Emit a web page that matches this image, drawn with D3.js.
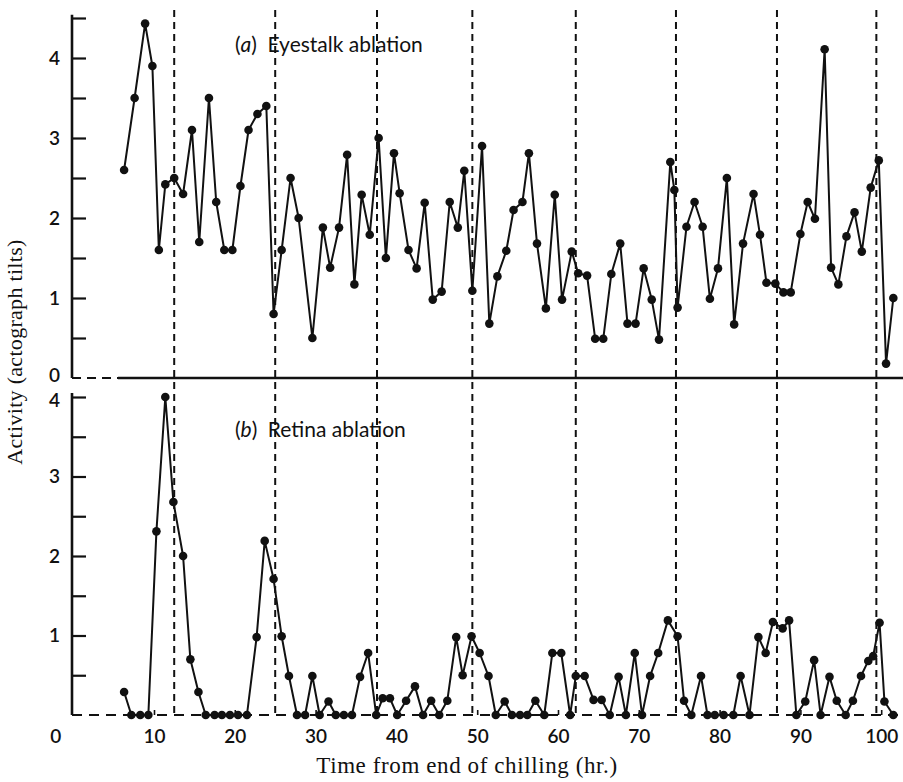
<!DOCTYPE html>
<html>
<head>
<meta charset="utf-8">
<script src="https://cdn.jsdelivr.net/npm/d3@7"></script>
<style>
  html, body { margin: 0; padding: 0; background: #fff; }
  svg { display: block; }
</style>
</head>
<body>
<svg id="chart" width="903" height="782"></svg>
<script>
// ---- Data ----
const eyestalkHours = [6.3,7.6,8.9,9.8,10.6,11.4,12.5,13.6,14.7,15.6,16.8,17.7,18.7,19.7,20.7,21.7,22.8,23.9,24.8,25.8,26.9,27.9,29.6,30.9,31.8,32.9,33.9,34.8,35.7,36.7,37.8,38.7,39.7,40.4,41.5,42.5,43.5,44.5,45.6,46.6,47.6,48.4,49.4,50.6,51.5,52.5,53.6,54.5,55.6,56.4,57.4,58.5,59.6,60.5,61.7,62.5,63.6,64.6,65.6,66.6,67.7,68.6,69.6,70.6,71.6,72.5,73.9,74.4,74.8,75.9,76.9,77.9,78.8,79.8,80.9,81.8,82.9,84.2,85.0,85.8,86.9,87.9,88.8,90.0,90.9,91.8,93.0,93.8,94.7,95.7,96.7,97.6,98.7,99.7,100.6,101.5];
const eyestalkValues = [2.6,3.5,4.43,3.9,1.6,2.42,2.5,2.3,3.1,1.7,3.5,2.2,1.6,1.6,2.4,3.1,3.3,3.4,0.8,1.6,2.5,2.0,0.5,1.88,1.38,1.88,2.79,1.17,2.29,1.79,3.0,1.5,2.81,2.31,1.6,1.37,2.19,0.98,1.08,2.2,1.88,2.59,1.09,2.9,0.68,1.27,1.59,2.1,2.2,2.81,1.68,0.87,2.29,0.98,1.58,1.31,1.28,0.49,0.49,1.3,1.68,0.68,0.68,1.37,0.98,0.48,2.7,2.35,0.88,1.89,2.2,1.89,0.99,1.37,2.5,0.67,1.68,2.3,1.79,1.19,1.18,1.07,1.07,1.8,2.2,1.99,4.11,1.38,1.17,1.77,2.07,1.58,2.38,2.72,0.18,1.0];

const retinaHours = [6.3,7.2,8.3,9.3,10.3,11.4,12.4,13.6,14.5,15.5,16.4,17.5,18.4,19.4,20.4,21.5,22.7,23.7,24.8,25.8,26.7,27.7,28.7,29.6,30.5,31.6,32.5,33.5,34.5,35.5,36.5,37.5,38.3,39.2,40.1,41.2,42.3,43.3,44.3,45.3,46.3,47.4,48.2,49.3,50.3,51.4,52.3,53.4,54.3,55.3,56.2,57.2,58.3,59.3,60.4,61.5,62.2,63.3,64.4,65.4,66.4,67.5,68.4,69.5,70.4,71.4,72.4,73.6,74.8,75.6,76.5,77.7,78.5,79.4,80.5,81.7,82.6,83.7,84.8,85.7,86.6,87.8,88.6,89.5,90.6,91.7,92.5,93.6,94.5,95.6,96.5,97.5,98.4,99.0,99.8,100.4,101.5];
const retinaValues = [0.29,0,0,0,2.31,4.0,2.68,2.0,0.7,0.29,0,0,0,0,0,0,0.98,2.19,1.71,0.99,0.49,0,0,0.49,0,0.17,0,0,0,0.48,0.78,0,0.21,0.21,0,0.18,0.36,0,0.18,0,0.18,0.98,0.5,0.99,0.78,0.49,0,0.17,0,0,0,0.18,0,0.78,0.78,0,0.49,0.49,0.19,0.19,0,0.48,0,0.78,0,0.49,0.78,1.19,0.99,0.18,0,0.49,0,0,0,0,0.49,0,0.98,0.78,1.17,1.09,1.19,0,0.17,0.69,0,0.48,0.18,0,0.18,0.49,0.68,0.74,1.16,0.17,0];

const tideHours = [12.5,25.0,37.6,49.4,62.2,74.6,87.1,99.4];
const xTickValues = [0,10,20,30,40,50,60,70,80,90,100];
const yTickValuesTop = [0.5,1,1.5,2,2.5,3,3.5,4,4.5];
const yTickValuesBottom = [0.5,1,1.5,2,2.5,3,3.5,4];
const panelLabels = [{tag:"a", text:"Eyestalk ablation"}, {tag:"b", text:"Retina ablation"}];
const xTitle = "Time from end of chilling (hr.)";
const yTitle = "Activity (actograph tilts)";

// ---- Layout ----
const svg = d3.select("#chart");
const axisX = 72;
const x = d3.scaleLinear().domain([0, 100]).range([73.2, 881.2]);
const yTop = d3.scaleLinear().domain([0, 4]).range([378, 58]);
const yBot = d3.scaleLinear().domain([0, 4]).range([715, 397]);
const rightEdge = 903;
const sansFont = "Lato, 'Open Sans', sans-serif";
const serifFont = "'Liberation Serif', 'DejaVu Serif', serif";
const tickFontSize = "19px";

// Tide (dashed vertical) lines
svg.append("g").selectAll("line").data(tideHours).join("line")
  .attr("x1", d => x(d)).attr("x2", d => x(d))
  .attr("y1", 10).attr("y2", yBot(0))
  .attr("stroke", "#111").attr("stroke-width", 2)
  .attr("stroke-dasharray", "7,5");

// Top panel baseline: dashed start, solid remainder
svg.append("line").attr("x1", axisX).attr("x2", 118)
  .attr("y1", yTop(0)).attr("y2", yTop(0))
  .attr("stroke", "#111").attr("stroke-width", 2.2).attr("stroke-dasharray", "9,6");
svg.append("line").attr("x1", 118).attr("x2", rightEdge)
  .attr("y1", yTop(0)).attr("y2", yTop(0))
  .attr("stroke", "#111").attr("stroke-width", 2.4);

// Bottom panel baseline: dashed
svg.append("line").attr("x1", axisX).attr("x2", rightEdge)
  .attr("y1", yBot(0)).attr("y2", yBot(0))
  .attr("stroke", "#111").attr("stroke-width", 2.2).attr("stroke-dasharray", "10,7");

// Y axes
function yAxis(scale, ticks, topVal) {
  const g = svg.append("g").attr("transform", `translate(${axisX},0)`)
    .call(d3.axisLeft(scale).tickValues(ticks)
      .tickSizeInner(-14).tickSizeOuter(0).tickPadding(12)
      .tickFormat(d => Number.isInteger(d) ? d : ""));
  g.select(".domain").remove();
  g.append("line").attr("x1", 0).attr("x2", 0)
    .attr("y1", scale(topVal)).attr("y2", scale(0))
    .attr("stroke", "#111").attr("stroke-width", 2.6);
  g.selectAll(".tick line").attr("stroke", "#111").attr("stroke-width", 2.2);
  g.selectAll(".tick text").attr("fill", "#111")
    .style("font-family", sansFont).style("font-size", tickFontSize).style("font-weight", "600");
  return g;
}
yAxis(yTop, yTickValuesTop, 4.54);
const gyBot = yAxis(yBot, yTickValuesBottom, 4.05);
// the topmost label of the lower panel sits a little below its tick, as in the reference
gyBot.selectAll(".tick").filter(d => d === 4).select("text").attr("dy", "0.5em");

// Top panel "0" label
svg.append("text").attr("x", axisX - 12).attr("y", yTop(0)).attr("dy", "0.22em")
  .attr("text-anchor", "end").attr("fill", "#111")
  .style("font-family", sansFont).style("font-size", tickFontSize).style("font-weight", "600")
  .text(0);

// X axis (bottom)
const gx = svg.append("g").attr("transform", `translate(0,${yBot(0)})`)
  .call(d3.axisBottom(x).tickValues(xTickValues)
    .tickSizeInner(-5).tickSizeOuter(0).tickPadding(15));
gx.select(".domain").remove();
gx.selectAll(".tick line").attr("stroke", "#111").attr("stroke-width", 1.6);
gx.selectAll(".tick").filter(d => d === 0).select("line").remove();
gx.selectAll(".tick text").attr("fill", "#111")
  .style("font-family", sansFont).style("font-size", tickFontSize).style("font-weight", "600");
gx.selectAll(".tick").filter(d => d === 0).select("text").attr("dx", -18);

// Series
function series(hours, values, yScale) {
  const pts = hours.map((h, i) => [h, values[i]]);
  svg.append("path").datum(pts)
    .attr("fill", "none").attr("stroke", "#111").attr("stroke-width", 2)
    .attr("stroke-linejoin", "round")
    .attr("d", d3.line().x(d => x(d[0])).y(d => yScale(d[1])));
  svg.append("g").selectAll("circle").data(pts).join("circle")
    .attr("cx", d => x(d[0])).attr("cy", d => yScale(d[1]))
    .attr("r", 4.3).attr("fill", "#111");
}
series(eyestalkHours, eyestalkValues, yTop);
series(retinaHours, retinaValues, yBot);

// Panel labels
[[panelLabels[0], 52], [panelLabels[1], 437]].forEach(([p, yy]) => {
  const t = svg.append("text").attr("x", 235).attr("y", yy).attr("fill", "#111")
    .style("font-family", sansFont).style("font-size", "21px");
  t.append("tspan").text("(");
  t.append("tspan").style("font-style", "italic").text(p.tag);
  t.append("tspan").text(")\u2002" + p.text);
});

// Axis titles
svg.append("text").attr("x", 467).attr("y", 773).attr("text-anchor", "middle")
  .attr("fill", "#111").style("font-family", serifFont).style("font-size", "23px")
  .style("letter-spacing", "0.6px")
  .text(xTitle);
svg.append("text").attr("transform", "translate(22,352) rotate(-90)")
  .attr("text-anchor", "middle").attr("fill", "#111")
  .style("font-family", serifFont).style("font-size", "22px")
  .style("letter-spacing", "0.3px")
  .text(yTitle);
</script>
</body>
</html>
